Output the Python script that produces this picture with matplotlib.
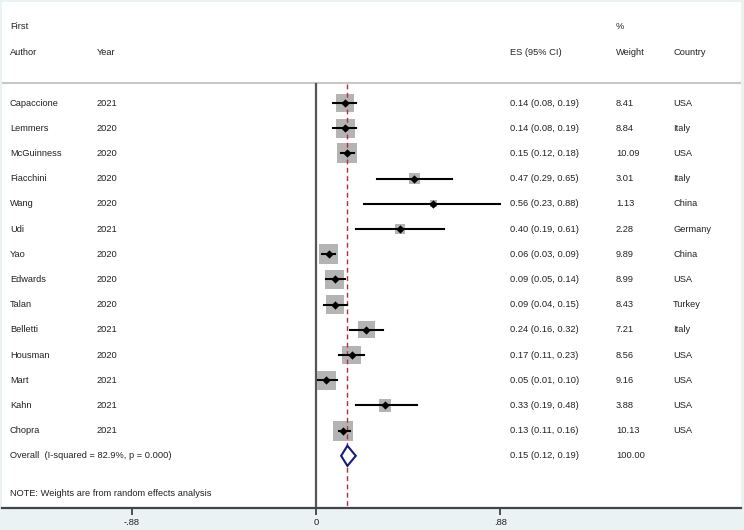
import matplotlib
matplotlib.use("Agg")
import matplotlib.pyplot as plt
from matplotlib.patches import Polygon

plt.rcParams['font.family'] = ['Liberation Sans', 'DejaVu Sans']

authors = ["Capaccione", "Lemmers", "McGuinness", "Fiacchini", "Wang", "Udi", "Yao",
           "Edwards", "Talan", "Belletti", "Housman", "Mart", "Kahn", "Chopra"]
years = ["2021", "2020", "2020", "2020", "2020", "2021", "2020",
         "2020", "2020", "2021", "2020", "2021", "2021", "2021"]
es = [0.14, 0.14, 0.15, 0.47, 0.56, 0.40, 0.06, 0.09, 0.09, 0.24, 0.17, 0.05, 0.33, 0.13]
lo = [0.08, 0.08, 0.12, 0.29, 0.23, 0.19, 0.03, 0.05, 0.04, 0.16, 0.11, 0.01, 0.19, 0.11]
hi = [0.19, 0.19, 0.18, 0.65, 0.88, 0.61, 0.09, 0.14, 0.15, 0.32, 0.23, 0.10, 0.48, 0.16]
weights = [8.41, 8.84, 10.09, 3.01, 1.13, 2.28, 9.89, 8.99, 8.43, 7.21, 8.56, 9.16, 3.88, 10.13]
countries = ["USA", "Italy", "USA", "Italy", "China", "Germany", "China",
             "USA", "Turkey", "Italy", "USA", "USA", "USA", "USA"]
overall_es, overall_lo, overall_hi = 0.15, 0.12, 0.19
overall_label = "Overall  (I-squared = 82.9%, p = 0.000)"
note = "NOTE: Weights are from random effects analysis"
xticks = [-0.88, 0, 0.88]
xticklabels = ["-.88", "0", ".88"]

W, H = 744, 530
fig = plt.figure(figsize=(W / 100, H / 100), dpi=100, facecolor="#eaf2f3")
ax = fig.add_axes([2 / W, 1 - 508 / H, 739 / W, 506 / H])
ax.set_facecolor("white")

xl, xr = -1.4995, 2.0296
ax.set_xlim(xl, xr)
ax.set_ylim(16.07, -4.008)

def px(p):
    return (p - 316) / 209.4

fs = 6.7
tc = "#222222"
n = len(authors)
rows = list(range(n))

# header
ax.text(px(10), -3.02, "First", fontsize=fs, color=tc, va="center")
ax.text(px(10), -2.02, "Author", fontsize=fs, color=tc, va="center")
ax.text(px(97), -2.02, "Year", fontsize=fs, color=tc, va="center")
ax.text(px(510), -2.02, "ES (95% CI)", fontsize=fs, color=tc, va="center")
ax.text(px(616), -3.02, "%", fontsize=fs, color=tc, va="center")
ax.text(px(616), -2.02, "Weight", fontsize=fs, color=tc, va="center")
ax.text(px(673), -2.02, "Country", fontsize=fs, color=tc, va="center")
ax.axhline(-0.79, color="#c8c8c8", lw=1.5)

# reference lines
ax.plot([0, 0], [-0.75, 16.07], color="#555555", lw=1.6, zorder=2)
ax.plot([overall_es, overall_es], [-0.75, 16.07], color="#b0303f", lw=1.0,
        dashes=(3.5, 2.5), zorder=4)

# boxes
ax.scatter(es, rows, s=[20.6 * w for w in weights], marker="s", color="#b4b4b4",
           linewidths=0, zorder=3)
# CIs
for i in rows:
    ax.plot([lo[i], hi[i]], [i, i], color="black", lw=1.5, zorder=5)
ax.scatter(es, rows, s=18, marker="D", color="black", zorder=6, linewidths=0)

for i in rows:
    ax.text(px(10), i, authors[i], fontsize=fs, color=tc, va="center")
    ax.text(px(97), i, years[i], fontsize=fs, color=tc, va="center")
    ax.text(px(510), i, f"{es[i]:.2f} ({lo[i]:.2f}, {hi[i]:.2f})", fontsize=fs, color=tc, va="center")
    ax.text(px(616), i, f"{weights[i]:.2f}", fontsize=fs, color=tc, va="center")
    ax.text(px(673), i, countries[i], fontsize=fs, color=tc, va="center")

# overall
yo = n
dia = Polygon([[overall_lo, yo], [overall_es, yo - 0.4], [overall_hi, yo], [overall_es, yo + 0.4]],
              closed=True, facecolor="white", edgecolor="#1a1a7a", lw=1.5, zorder=6)
ax.add_patch(dia)
ax.text(px(10), yo, overall_label, fontsize=fs, color=tc, va="center")
ax.text(px(510), yo, f"{overall_es:.2f} ({overall_lo:.2f}, {overall_hi:.2f})", fontsize=fs, color=tc, va="center")
ax.text(px(616), yo, "100.00", fontsize=fs, color=tc, va="center")
ax.text(px(10), 15.48, note, fontsize=fs, color=tc, va="center")

for s in ["top", "right", "left"]:
    ax.spines[s].set_visible(False)
ax.spines["bottom"].set_color("#444444")
ax.spines["bottom"].set_linewidth(1.6)
ax.set_yticks([])
ax.set_xticks(xticks)
ax.set_xticklabels(xticklabels, fontsize=fs, color=tc)
ax.tick_params(axis="x", length=5, width=1.2, color="#333333", pad=2)

fig.savefig("out.png", dpi=100, facecolor=fig.get_facecolor())
